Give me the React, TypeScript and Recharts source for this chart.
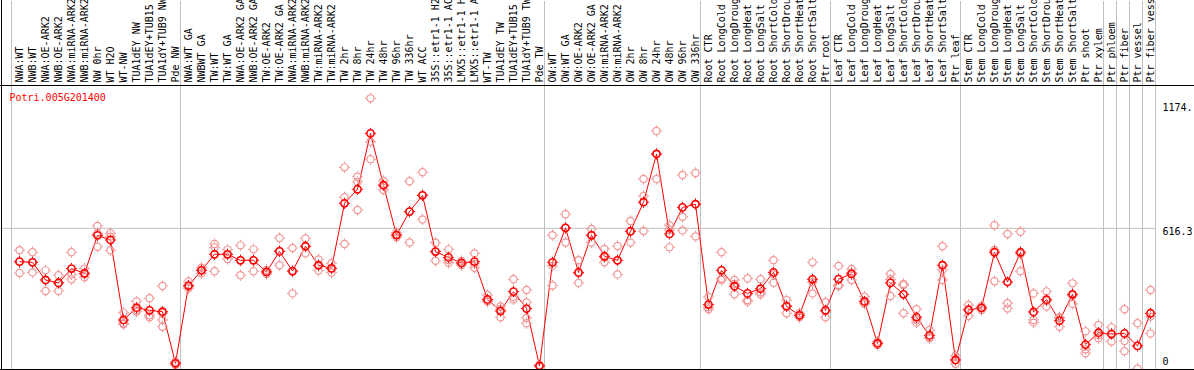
import { ComposedChart, Line, ReferenceLine, Scatter, XAxis, YAxis } from 'recharts';

const geneId = 'Potri.005G201400';

const conditions = [
  'NWA:WT', 'NWB:WT', 'NWA:OE-ARK2', 'NWB:OE-ARK2', 'NWA:miRNA-ARK2', 'NWB:miRNA-ARK2', 'NW 0hr', 'WT H2O', 'WT-NW',
  'TUA1dEY NW', 'TUA1dEY+TUB15 NW', 'TUA1dY+TUB9 NW', 'Pde NW',
  'NWA:WT GA', 'NWBWT GA', 'TW:WT', 'TW:WT GA', 'NWA:OE-ARK2 GA', 'NWB:OE-ARK2 GA', 'TW:OE-ARK2', 'TW:OE-ARK2 GA',
  'NWA:miRNA-ARK2 GA', 'NWB:miRNA-ARK2 GA', 'TW:miRNA-ARK2', 'TW:miRNA-ARK2 GA', 'TW 2hr', 'TW 8hr', 'TW 24hr', 'TW 48hr',
  'TW 96hr', 'TW 336hr', 'WT ACC', '35S::etr1-1 H2O', '35S::etr1-1 ACC', 'LMX5::etr1-1 H2O', 'LMX5::etr1-1 ACC', 'WT-TW',
  'TUA1dEY TW', 'TUA1dEY+TUB15 TW', 'TUA1dY+TUB9 TW', 'Pde TW',
  'OW:WT', 'OW:WT GA', 'OW:OE-ARK2', 'OW:OE-ARK2 GA', 'OW:miRNA-ARK2', 'OW:miRNA-ARK2 GA', 'OW 2hr', 'OW 8hr', 'OW 24hr',
  'OW 48hr', 'OW 96hr', 'OW 336hr',
  'Root CTR', 'Root LongCold', 'Root LongDrought', 'Root LongHeat', 'Root LongSalt', 'Root ShortCold', 'Root ShortDrought',
  'Root ShortHeat', 'Root ShortSalt', 'Ptr root',
  'Leaf CTR', 'Leaf LongCold', 'Leaf LongDrought', 'Leaf LongHeat', 'Leaf LongSalt', 'Leaf ShortCold', 'Leaf ShortDrought',
  'Leaf ShortHeat', 'Leaf ShortSalt', 'Ptr leaf',
  'Stem CTR', 'Stem LongCold', 'Stem LongDrought', 'Stem LongHeat', 'Stem LongSalt', 'Stem ShortCold', 'Stem ShortDrought',
  'Stem ShortHeat', 'Stem ShortSalt', 'Ptr shoot', 'Ptr xylem', 'Ptr phloem', 'Ptr fiber', 'Ptr vessel', 'Ptr fiber vessel',
];

// number of conditions between two grey separators
const sectionSizes = [13, 28, 12, 10, 10, 11, 1, 1, 1, 1];

const meanExpr = [
  467, 464, 385, 372, 436, 415, 585, 564, 206, 261, 249, 243, 12,
  360, 428, 500, 500, 473, 473, 421, 513, 425, 536, 451, 437, 728, 791, 1041, 809, 586, 691, 764, 512, 486, 461, 467, 298,
  246, 333, 257, 0,
  464, 618, 419, 585, 491, 473, 603, 733, 949, 591, 710, 724,
  275, 428, 357, 325, 346, 419, 267, 227, 388, 249,
  389, 412, 289, 101, 372, 321, 218, 137, 451, 27,
  251, 260, 509, 376, 509, 242, 297, 203, 321, 96, 149, 143, 146, 90, 236,
];

const replicateExpr = [
  [518, 467, 416], [509, 464, 419], [428, 385, 336], [406, 372, 336], [509, 410, 388], [436, 412, 397],
  [627, 594, 534], [594, 579, 518], [239, 191, 187], [289, 251, 243], [303, 227, 218], [358, 236, 206, 176],
  [19, 12, 4],
  [378, 355, 348], [440, 430, 415], [546, 531, 424], [521, 500, 479], [540, 473, 406], [522, 473, 424],
  [430, 421, 412], [573, 516, 451], [528, 422, 325], [571, 534, 504], [477, 448, 427], [460, 436, 418],
  [889, 755, 546], [847, 824, 698], [1198, 1004, 925], [828, 809, 788], [597, 586, 576], [827, 691, 553],
  [867, 764, 656], [552, 512, 471], [522, 474, 462], [470, 461, 452], [504, 457, 440], [318, 292, 288],
  [266, 254, 218], [388, 310, 298], [340, 284, 215, 191], [5, 2, 0],
  [585, 448, 360], [679, 618, 553], [473, 415, 372], [613, 585, 553], [524, 486, 464], [537, 473, 410],
  [649, 603, 553], [837, 761, 604], [1052, 949, 837], [630, 609, 531], [855, 668, 607], [864, 725, 580],
  [309, 263, 254], [509, 392, 385], [385, 367, 321], [392, 295, 288], [388, 330, 321], [473, 410, 373],
  [295, 270, 236], [236, 227, 218], [464, 375, 325], [285, 245, 218],
  [448, 363, 358], [433, 418, 385], [310, 281, 278], [109, 101, 94], [412, 388, 313], [367, 361, 236],
  [254, 206, 194], [161, 128, 124], [536, 430, 385], [45, 27, 9],
  [273, 254, 224], [269, 260, 251], [630, 519, 379], [591, 281, 257], [601, 501, 424], [325, 206, 194],
  [334, 291, 266], [218, 215, 176], [370, 315, 278], [155, 75, 57], [184, 139, 124], [173, 146, 110],
  [254, 112, 66], [191, 90, -12], [340, 221, 146],
];

const yTicks = [0, 616.3, 1174];
const yTickLabels = ['0', '616.3', '1174.'];

const FONT = '"DejaVu Sans Mono", "Liberation Mono", monospace';
const RED = '#ff0000';
const PINK = '#f19494';
const GRID = '#c0c0c0';

const meanData = meanExpr.map((value, idx) => ({ idx, value }));
const repData = replicateExpr.flatMap((reps, idx) => reps.map((value) => ({ idx, value })));
const boundaries = sectionSizes.reduce((acc, n) => [...acc, acc[acc.length - 1] + n], [0]);

function Ring({ cx, cy, color, width }: { cx: number; cy: number; color: string; width: number }) {
  if (cx == null || cy == null) return null;
  return (
    <g>
      <circle cx={cx} cy={cy} r={3.6} fill="none" stroke={color} strokeWidth={width} />
      <path
        d={`M${cx},${cy - 5.6}v1.4M${cx},${cy + 4.2}v1.4M${cx - 5.6},${cy}h1.4M${cx + 4.2},${cy}h1.4`}
        stroke={color}
        strokeWidth={1}
      />
    </g>
  );
}

function ConditionTick(props: any) {
  const { x, payload } = props;
  const tx = x + 3.5;
  const ty = 82.5;
  return (
    <text x={tx} y={ty} transform={`rotate(-90 ${tx} ${ty})`} fontFamily={FONT} fontSize={10} fill="#000">
      {conditions[payload.value]}
    </text>
  );
}

function ValueTick(props: any) {
  const { y, payload } = props;
  const label = yTickLabels[yTicks.indexOf(payload.value)];
  return (
    <text x={1162.5} y={y} dy={payload.value === 0 ? -0.5 : 7} fontFamily={FONT} fontSize={10} fill="#000">
      {label}
    </text>
  );
}

export default function App() {
  return (
    <div style={{ position: 'absolute', left: 0, top: 0, width: 1194, height: 370, background: '#fff' }}>
      <ComposedChart width={1194} height={370} margin={{ top: 0, right: 0, bottom: 1, left: 1 }}>
        <XAxis
          orientation="top"
          type="number"
          dataKey="idx"
          domain={[-18.5 / 13, 1136.5 / 13]}
          allowDataOverflow
          ticks={conditions.map((_, i) => i)}
          interval={0}
          height={1}
          axisLine={false}
          tickLine={false}
          tick={<ConditionTick />}
        />
        <YAxis
          orientation="right"
          type="number"
          dataKey="value"
          width={38}
          domain={[-13.43, 1633.6]}
          allowDataOverflow
          ticks={yTicks}
          interval={0}
          axisLine={false}
          tickLine={false}
          tick={<ValueTick />}
        />
        <ReferenceLine y={616.3} stroke={GRID} strokeWidth={1} />
        {boundaries.map((b) => (
          <ReferenceLine key={b} x={b - 8 / 13} stroke={GRID} strokeWidth={1} />
        ))}
        <Scatter
          data={repData}
          dataKey="value"
          isAnimationActive={false}
          shape={(p: any) => <Ring cx={p.cx} cy={p.cy} color={PINK} width={1.2} />}
        />
        <Line
          data={meanData}
          dataKey="value"
          type="linear"
          stroke={RED}
          strokeWidth={1}
          activeDot={false}
          isAnimationActive={false}
          dot={(p: any) => <Ring key={`m${p.index}`} cx={p.cx} cy={p.cy} color={RED} width={1.6} />}
        />
      </ComposedChart>
      <svg width={1194} height={370} style={{ position: 'absolute', left: 0, top: 0, pointerEvents: 'none' }}>
        <line x1={0} x2={1194} y1={85.5} y2={85.5} stroke="#000" strokeWidth={1} />
        <line x1={0} x2={1194} y1={369.5} y2={369.5} stroke="#000" strokeWidth={1} />
        <line x1={1.5} x2={1.5} y1={0} y2={370} stroke="#000" strokeWidth={1} />
        <text x={9.5} y={101} fill={RED} fontFamily={FONT} fontSize={10}>
          {geneId}
        </text>
      </svg>
    </div>
  );
}
